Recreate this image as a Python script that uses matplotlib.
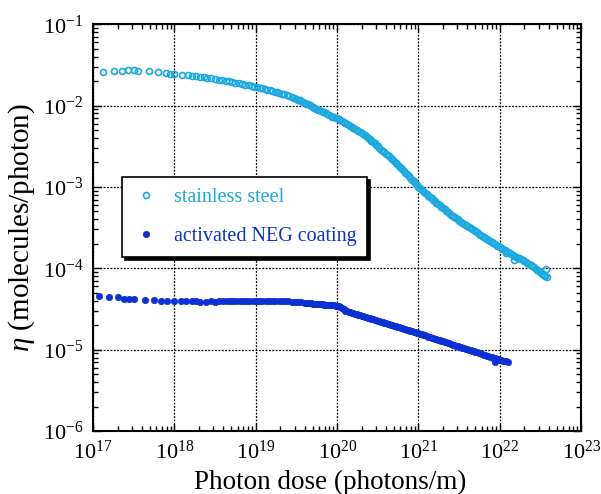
import matplotlib
matplotlib.use("Agg")
import matplotlib.pyplot as plt
import numpy as np
from matplotlib.ticker import LogLocator, NullFormatter

plt.rcParams["font.family"] = ["Liberation Serif", "DejaVu Serif"]
plt.rcParams["mathtext.fontset"] = "custom"
plt.rcParams["mathtext.rm"] = "Liberation Serif"
plt.rcParams["mathtext.it"] = "Liberation Serif:italic"

# axis decades
x_decades = [17, 18, 19, 20, 21, 22, 23]
y_decades = [-6, -5, -4, -3, -2, -1]

# stainless steel: log10(dose), log10(eta)
ss_logdose = [
    17.12, 17.26, 17.36, 17.43, 17.50, 17.55, 17.69, 17.80, 17.89, 17.95,
    18.00, 18.09, 18.16, 18.22, 18.27, 18.31, 18.36, 18.40, 18.45, 18.50,
    18.55, 18.59, 18.63, 18.67, 18.71, 18.75, 18.79, 18.83, 18.87, 18.91,
    18.95, 18.98, 19.02, 19.05, 19.08, 19.11, 19.14, 19.17, 19.20, 19.23,
    19.26, 19.29, 19.32, 19.35, 19.38, 19.41, 19.44, 19.47,
    19.50, 19.52, 19.54, 19.56, 19.58, 19.60, 19.62, 19.64, 19.66, 19.68,
    19.70, 19.72, 19.74, 19.76, 19.78, 19.80, 19.82, 19.84, 19.86, 19.88,
    19.90, 19.92, 19.94, 19.96, 19.98, 20.00, 20.02, 20.04, 20.06, 20.08,
    20.10, 20.12, 20.14, 20.16, 20.18, 20.20, 20.22, 20.24, 20.26, 20.28,
    20.30, 20.32, 20.34, 20.36, 20.38, 20.40, 20.42, 20.44, 20.46, 20.48,
    20.50, 20.52, 20.54, 20.56, 20.58, 20.60, 20.62, 20.64, 20.66, 20.68,
    20.70, 20.72, 20.74, 20.76, 20.78, 20.80, 20.82, 20.84, 20.86, 20.88,
    20.90, 20.92, 20.94, 20.96, 20.98, 21.00, 21.02, 21.04, 21.06, 21.08,
    21.10, 21.12, 21.14, 21.16, 21.18, 21.20, 21.22, 21.24, 21.26, 21.28,
    21.30, 21.32, 21.34, 21.36, 21.38, 21.40, 21.42, 21.44, 21.46, 21.48,
    21.50, 21.52, 21.54, 21.56, 21.58, 21.60, 21.62, 21.64, 21.66, 21.68,
    21.70, 21.72, 21.74, 21.76, 21.78, 21.80, 21.82, 21.84, 21.86, 21.88,
    21.90, 21.92, 21.94, 21.96, 21.98, 22.00, 22.02, 22.04, 22.06, 22.08,
    22.10, 22.12, 22.14, 22.16, 22.18, 22.20, 22.22, 22.24, 22.26, 22.28,
    22.30, 22.32, 22.34, 22.36, 22.38, 22.40, 22.42, 22.44, 22.46, 22.48,
    22.50, 22.52, 22.54, 22.56, 22.58, 22.07, 22.17, 22.57,
]
ss_logeta = [
    -1.590, -1.577, -1.572, -1.568, -1.568, -1.572, -1.574, -1.588, -1.600, -1.610,
    -1.615, -1.622, -1.628, -1.634, -1.640, -1.645, -1.650, -1.656, -1.663, -1.672,
    -1.680, -1.688, -1.696, -1.704, -1.712, -1.720, -1.728, -1.736, -1.745, -1.753,
    -1.762, -1.768, -1.776, -1.783, -1.790, -1.797, -1.805, -1.812, -1.820, -1.828,
    -1.836, -1.845, -1.853, -1.862, -1.872, -1.882, -1.893, -1.905,
    -1.917, -1.926, -1.935, -1.945, -1.955, -1.965, -1.975, -1.986, -1.997, -2.008,
    -2.020, -2.030, -2.040, -2.050, -2.060, -2.068, -2.076, -2.085, -2.095, -2.105,
    -2.115, -2.125, -2.135, -2.143, -2.150, -2.155, -2.167, -2.179, -2.191, -2.203,
    -2.216, -2.228, -2.240, -2.253, -2.266, -2.279, -2.292, -2.305, -2.318, -2.331,
    -2.343, -2.355, -2.367, -2.380, -2.396, -2.412, -2.430, -2.447, -2.466, -2.484,
    -2.502, -2.520, -2.548, -2.560, -2.575, -2.590, -2.607, -2.625, -2.642, -2.660,
    -2.680, -2.700, -2.720, -2.741, -2.762, -2.783, -2.804, -2.825, -2.846, -2.868,
    -2.889, -2.910, -2.932, -2.955, -2.978, -3.000, -3.018, -3.036, -3.054, -3.072,
    -3.090, -3.107, -3.125, -3.142, -3.160, -3.177, -3.193, -3.210, -3.226, -3.243,
    -3.260, -3.276, -3.292, -3.308, -3.324, -3.340, -3.360, -3.375, -3.388, -3.400,
    -3.414, -3.428, -3.442, -3.455, -3.469, -3.482, -3.495, -3.508, -3.521, -3.534,
    -3.547, -3.560, -3.573, -3.586, -3.598, -3.611, -3.623, -3.636, -3.648, -3.660,
    -3.675, -3.690, -3.705, -3.720, -3.731, -3.742, -3.753, -3.765, -3.776, -3.788,
    -3.799, -3.810, -3.822, -3.833, -3.845, -3.856, -3.868, -3.879, -3.891, -3.902,
    -3.914, -3.925, -3.937, -3.950, -3.962, -3.975, -3.990, -4.005, -4.020, -4.035,
    -4.051, -4.068, -4.084, -4.100, -4.110, -3.810, -3.900, -4.010,
]

# activated NEG coating: log10(dose), log10(eta)
neg_logdose = [
    17.07, 17.20, 17.30, 17.38, 17.44, 17.50, 17.64, 17.75, 17.83, 17.91,
    18.00, 18.08, 18.14, 18.21, 18.26, 18.31, 18.39, 18.45, 18.50, 18.55,
    18.60, 18.64, 18.68, 18.72, 18.76, 18.80, 18.84, 18.88, 18.92, 18.96,
    19.00, 19.04, 19.08, 19.12, 19.16, 19.20, 19.24, 19.28, 19.32, 19.36,
    19.40, 19.44, 19.48, 19.52, 19.56,
    19.60, 19.62, 19.64, 19.66, 19.68, 19.70, 19.72, 19.74, 19.76, 19.78,
    19.80, 19.82, 19.84, 19.86, 19.88, 19.90, 19.92, 19.94, 19.96, 19.98,
    20.00, 20.02, 20.04, 20.06, 20.08, 20.10, 20.12, 20.14, 20.16, 20.18,
    20.20, 20.22, 20.24, 20.26, 20.28, 20.30, 20.32, 20.34, 20.36, 20.38,
    20.40, 20.42, 20.44, 20.46, 20.48, 20.50, 20.52, 20.54, 20.56, 20.58,
    20.60, 20.62, 20.64, 20.66, 20.68, 20.70, 20.72, 20.74, 20.76, 20.78,
    20.80, 20.82, 20.84, 20.86, 20.88, 20.90, 20.92, 20.94, 20.96, 20.98,
    21.00, 21.02, 21.04, 21.06, 21.08, 21.10, 21.12, 21.14, 21.16, 21.18,
    21.20, 21.22, 21.24, 21.26, 21.28, 21.30, 21.32, 21.34, 21.36, 21.38,
    21.40, 21.42, 21.44, 21.46, 21.48, 21.50, 21.52, 21.54, 21.56, 21.58,
    21.60, 21.62, 21.64, 21.66, 21.68, 21.70, 21.72, 21.74, 21.76, 21.78,
    21.80, 21.82, 21.84, 21.86, 21.88, 21.90, 21.92, 21.94, 21.96, 21.98,
    22.00, 22.02, 22.04, 22.06, 22.08, 22.10, 21.94,
]
neg_logeta = [
    -4.340, -4.355, -4.358, -4.372, -4.376, -4.376, -4.385, -4.388, -4.398, -4.403,
    -4.405, -4.400, -4.400, -4.402, -4.406, -4.412, -4.414, -4.408, -4.410, -4.408,
    -4.405, -4.402, -4.400, -4.398, -4.397, -4.396, -4.396, -4.396, -4.396, -4.396,
    -4.398, -4.398, -4.400, -4.400, -4.401, -4.402, -4.403, -4.404, -4.405, -4.406,
    -4.408, -4.410, -4.413, -4.416, -4.420,
    -4.424, -4.426, -4.428, -4.430, -4.432, -4.434, -4.436, -4.438, -4.440, -4.442,
    -4.443, -4.445, -4.446, -4.448, -4.450, -4.452, -4.453, -4.455, -4.457, -4.460,
    -4.462, -4.468, -4.475, -4.490, -4.505, -4.520, -4.530, -4.536, -4.542, -4.549,
    -4.555, -4.561, -4.567, -4.573, -4.579, -4.585, -4.592, -4.598, -4.604, -4.610,
    -4.616, -4.622, -4.628, -4.635, -4.641, -4.647, -4.653, -4.659, -4.665, -4.671,
    -4.678, -4.684, -4.690, -4.696, -4.702, -4.708, -4.714, -4.721, -4.727, -4.733,
    -4.739, -4.745, -4.751, -4.757, -4.764, -4.770, -4.776, -4.782, -4.788, -4.794,
    -4.800, -4.807, -4.813, -4.820, -4.826, -4.833, -4.839, -4.846, -4.852, -4.859,
    -4.865, -4.872, -4.878, -4.885, -4.891, -4.898, -4.904, -4.911, -4.917, -4.924,
    -4.930, -4.937, -4.943, -4.950, -4.956, -4.963, -4.969, -4.976, -4.982, -4.989,
    -4.995, -5.002, -5.008, -5.015, -5.021, -5.028, -5.034, -5.041, -5.047, -5.054,
    -5.060, -5.067, -5.073, -5.080, -5.086, -5.093, -5.099, -5.106, -5.112, -5.119,
    -5.125, -5.130, -5.135, -5.140, -5.145, -5.150, -5.150,
]

SS_COLOR = "#1aa8e0"
NEG_COLOR = "#0b30d4"

fig = plt.figure(figsize=(6.01, 4.94), dpi=100)
ax = fig.add_axes([0.155, 0.1275, 0.812, 0.8235])

ss_x = 10.0 ** np.array(ss_logdose)
ss_y = 10.0 ** np.array(ss_logeta)
neg_x = 10.0 ** np.array(neg_logdose)
neg_y = 10.0 ** np.array(neg_logeta)

ax.plot(ss_x, ss_y, "o", ls="none", ms=4.3, mfc="none", mec=SS_COLOR, mew=1.2,
        label="stainless steel")
ax.plot(neg_x, neg_y, "o", ls="none", ms=4.6, mfc=NEG_COLOR, mec=NEG_COLOR, mew=0.5,
        label="activated NEG coating")

ax.set_xscale("log")
ax.set_yscale("log")

# only the decades inside the frame get a tick and a label
ax.set_xticks([10.0 ** e for e in x_decades],
              [rf"$10^{{{e}}}$" for e in x_decades])
ax.set_yticks([10.0 ** e for e in y_decades],
              [rf"$10^{{{e}}}$" for e in y_decades])
ax.xaxis.set_minor_locator(LogLocator(base=10, subs=np.arange(2, 10), numticks=20))
ax.yaxis.set_minor_locator(LogLocator(base=10, subs=np.arange(2, 10), numticks=20))
ax.xaxis.set_minor_formatter(NullFormatter())
ax.yaxis.set_minor_formatter(NullFormatter())
ax.set_xlim(1e17, 1e23)
ax.set_ylim(1e-6, 1e-1)

ax.tick_params(which="both", direction="in", top=True, right=True, width=1.0,
               labelsize=16, colors="black")
ax.tick_params(which="major", length=6, pad=7)
ax.tick_params(which="minor", length=3.5)
for s in ax.spines.values():
    s.set_linewidth(1.5)

ax.grid(True, which="major", color="black", linestyle=(0, (1.5, 1.2)), linewidth=0.9)

ax.set_xlabel("Photon dose (photons/m)", fontsize=19.5)
ax.xaxis.set_label_coords(0.486, -0.095)
ax.set_ylabel(r"$\eta$ (molecules/photon)", fontsize=21, labelpad=4)

leg = ax.legend(loc="upper left", bbox_to_anchor=(0.06, 0.625), fontsize=14.5,
                frameon=True, fancybox=False, shadow={"color": "black", "alpha": 1.0},
                markerscale=1.0, handletextpad=0.8, borderpad=0.55, labelspacing=1.0,
                handlelength=1.2, borderaxespad=0)
leg.get_frame().set_edgecolor("black")
leg.get_frame().set_linewidth(1.2)
for txt, col in zip(leg.get_texts(), [SS_COLOR, NEG_COLOR]):
    txt.set_color(col)

fig.savefig("out.png", dpi=100)
